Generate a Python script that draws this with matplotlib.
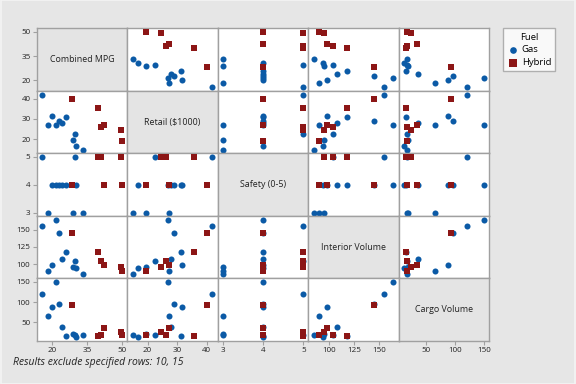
import matplotlib
matplotlib.use("Agg")
import matplotlib.pyplot as plt
from matplotlib.patches import Rectangle

# ---- data (excluding rows 10, 15) ----
var_names = ["Combined MPG", "Retail ($1000)", "Safety (0-5)", "Interior Volume", "Cargo Volume"]

gas_mpg      = [33.4, 30.4, 29.1, 29.7, 21.5, 18.2, 24.1, 22.8, 25.9, 19.8, 15.7]
gas_retail   = [14.9, 16.6, 19.6, 22.4, 26.8, 27.2, 28.1, 29.1, 31.2, 31.6, 42.0]
gas_safety   = [3, 4, 3, 5, 4, 3, 4, 4, 4, 4, 5]
gas_interior = [85.3, 93.9, 95.3, 103.9, 163.9, 89.6, 108.1, 145.3, 118.1, 98.1, 155.3]
gas_cargo    = [17.6, 12.7, 20.0, 17.6, 149.3, 66.3, 37.1, 95.6, 15.1, 88.3, 120.0]

hyb_mpg      = [28.3, 39.8, 41.1, 42.4, 49.5, 49.9]
hyb_retail   = [40.0, 35.6, 26.2, 27.2, 24.7, 19.3]
hyb_safety   = [4, 5, 5, 4, 5, 4]
hyb_interior = [145.3, 118.1, 103.9, 98.1, 95.3, 89.6]
hyb_cargo    = [93.2, 15.1, 17.6, 34.6, 24.9, 17.6]

ticks = [[20, 35, 50], [20, 30, 40], [3, 4, 5], [100, 125, 150], [50, 100, 150]]
limits = [(13.3, 52.3), (13.1, 43.8), (2.88, 5.12), (79.3, 170.0), (3.5, 158.6)]

gas = [gas_mpg, gas_retail, gas_safety, gas_interior, gas_cargo]
hyb = [hyb_mpg, hyb_retail, hyb_safety, hyb_interior, hyb_cargo]

# ---- style ----
FONT = ["Open Sans", "DejaVu Sans"]
plt.rcParams["font.family"] = FONT
BG = "#E6E6E6"
EDGE = "#A0A0A0"
BLUE = "#0B5AA6"
RED = "#8C1616"

W, H = 576, 384
fig = plt.figure(figsize=(W / 100, H / 100), dpi=100, facecolor=BG)

left_px, right_px, top_px, bot_px = 36.7, 489.3, 28.3, 341.0
n = 5
cw = (right_px - left_px) / n
rh = (bot_px - top_px) / n

handles = None
for r in range(n):
    for c in range(n):
        x0 = left_px + c * cw
        y0 = top_px + (r + 1) * rh
        ax = fig.add_axes([x0 / W, 1 - y0 / H, cw / W, rh / H])
        for s in ax.spines.values():
            s.set_color(EDGE)
            s.set_linewidth(1.0)
        ax.set_xlim(limits[c])
        ax.set_ylim(limits[r])
        ax.tick_params(length=3, width=0.8, color=EDGE, labelsize=5.8,
                       labelcolor="#222222", pad=1.5)
        ax.set_xticks(ticks[c])
        ax.set_yticks(ticks[r])
        if r != n - 1:
            ax.tick_params(axis="x", bottom=False, labelbottom=False)
        if c != 0:
            ax.tick_params(axis="y", left=False, labelleft=False)
        if r == c:
            ax.set_facecolor("#E4E4E4")
            ax.text(0.5, 0.5, var_names[r], transform=ax.transAxes,
                    ha="center", va="center", fontsize=6.4, color="#222222")
        else:
            ax.set_facecolor("white")
            h1 = ax.scatter(gas[c], gas[r], s=19, marker="o", color=BLUE,
                            linewidths=0, zorder=3, clip_on=False)
            h2 = ax.scatter(hyb[c], hyb[r], s=21, marker="s", color=RED,
                            linewidths=0, zorder=4, clip_on=False)
            if handles is None:
                handles = [h1, h2]

# legend
leg = fig.legend(handles, ["Gas", "Hybrid"], title="Fuel",
                 loc="upper left", bbox_to_anchor=(503.3 / W, 1 - 28.3 / H),
                 fontsize=6.8, title_fontsize=6.8, frameon=True, fancybox=False,
                 edgecolor=EDGE, facecolor="white", borderaxespad=0,
                 handletextpad=0.3, handlelength=1.2, labelspacing=0.4,
                 borderpad=0.45, markerscale=1.1)
leg.get_frame().set_linewidth(1.0)

fig.text(13 / W, 1 - 362 / H, "Results exclude specified rows: 10, 15",
         fontsize=7.5, style="italic", ha="left", va="center", color="#222222")

# faint outer border
fig.patches.append(Rectangle((0.001, 0.001), 0.998, 0.998, transform=fig.transFigure,
                             fill=False, edgecolor="#F4F4F4", linewidth=1.2))

fig.savefig("out.png", dpi=100, facecolor=BG)
